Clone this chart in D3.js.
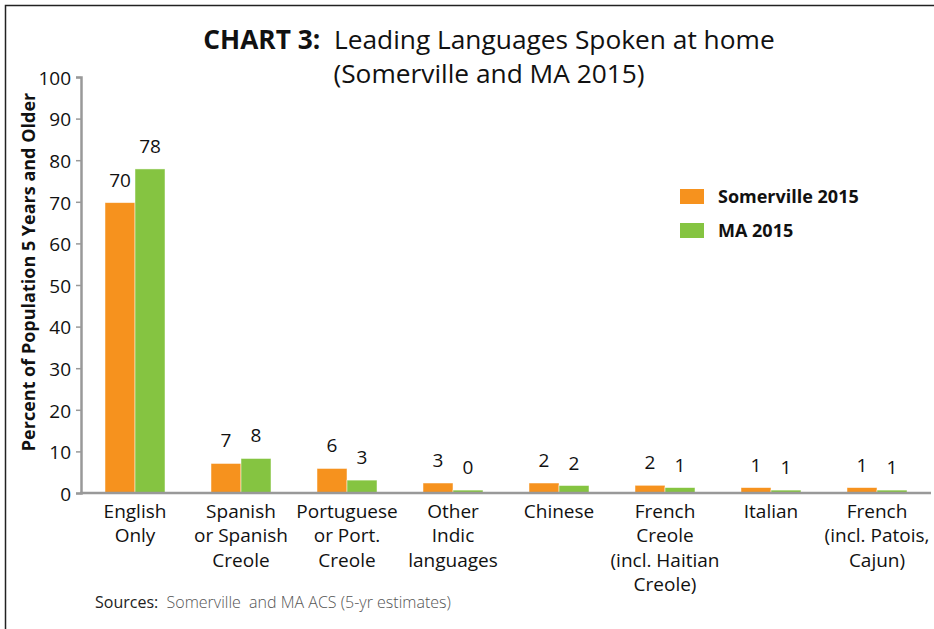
<!DOCTYPE html>
<html>
<head>
<meta charset="utf-8">
<script src="https://cdn.jsdelivr.net/npm/d3@7"></script>
<style>
  body { margin: 0; background: #fff; }
  text { font-family: "Open Sans", sans-serif; fill: #111; }
</style>
</head>
<body>
<div id="chart"></div>
<script>
// languages and their wrapped tick labels
const categories = ["English Only", "Spanish or Spanish Creole", "Portuguese or Port. Creole",
    "Other Indic languages", "Chinese", "French Creole (incl. Haitian Creole)", "Italian",
    "French (incl. Patois, Cajun)"];
const tickLines = [
    ["English", "Only"],
    ["Spanish", "or Spanish", "Creole"],
    ["Portuguese", "or Port.", "Creole"],
    ["Other", "Indic", "languages"],
    ["Chinese"],
    ["French", "Creole", "(incl. Haitian", "Creole)"],
    ["Italian"],
    ["French", "(incl. Patois,", "Cajun)"]
];
const seriesNames = ["Somerville 2015", "MA 2015"];
const somerville = [69.8, 7.1, 5.9, 2.4, 2.4, 1.85, 1.3, 1.3];
const ma = [77.9, 8.3, 3.1, 0.7, 1.8, 1.3, 0.7, 0.7];
const somervilleLabels = ["70", "7", "6", "3", "2", "2", "1", "1"];
const maLabels = ["78", "8", "3", "0", "2", "1", "1", "1"];
const yTicks = [0, 10, 20, 30, 40, 50, 60, 70, 80, 90, 100];
const colors = ["#F6921E", "#85C441"];

const width = 934, height = 629;

const svg = d3.select("#chart")
    .append("svg")
    .attr("width", width)
    .attr("height", height);

// frame (top and left only visible)
svg.append("path")
    .attr("d", "M5.5," + height + "V5.5H" + width)
    .attr("fill", "none")
    .attr("stroke", "#222")
    .attr("stroke-width", 1.5);

const x = d3.scaleBand()
    .domain(categories)
    .range([82, 930])
    .paddingInner(0.434)
    .paddingOuter(0.217);

const x1 = d3.scaleBand()
    .domain(seriesNames)
    .range([0, x.bandwidth()]);

const y = d3.scaleLinear()
    .domain([0, 100])
    .range([493, 77]);

// title, two lines in one text
const title = svg.append("text")
    .attr("x", 489)
    .attr("y", 49)
    .attr("text-anchor", "middle")
    .attr("font-size", 26.3)
    .style("white-space", "pre");
title.append("tspan").attr("font-weight", "bold").text("CHART 3:");
title.append("tspan").text("  Leading Languages Spoken at home");
title.append("tspan")
    .attr("x", 489)
    .attr("dy", 33.5)
    .text("(Somerville and MA 2015)");

// y axis
const yAxis = d3.axisLeft(y)
    .tickValues(yTicks)
    .tickSize(5)
    .tickPadding(5);

const yg = svg.append("g")
    .attr("transform", "translate(81,0)")
    .call(yAxis);
yg.select(".domain").attr("stroke", "#999").attr("stroke-width", 2.5);
yg.selectAll(".tick line").attr("stroke", "#999").attr("stroke-width", 1.5);
yg.selectAll(".tick text")
    .attr("font-size", 19)
    .attr("font-family", "Open Sans, sans-serif")
    .attr("fill", "#111")
    .attr("dy", "0.38em");

svg.append("text")
    .attr("transform", "translate(35,272) rotate(-90)")
    .attr("text-anchor", "middle")
    .attr("font-size", 18)
    .attr("font-weight", "bold")
    .text("Percent of Population 5 Years and Older");

// bars
const rows = categories.map((c, i) => ({
    cat: c,
    vals: [
        {s: seriesNames[0], v: somerville[i], label: somervilleLabels[i]},
        {s: seriesNames[1], v: ma[i], label: maLabels[i]}
    ]
}));

const groups = svg.selectAll(".grp")
    .data(rows)
    .enter()
    .append("g")
    .attr("class", "grp")
    .attr("transform", d => "translate(" + x(d.cat) + ",0)");

groups.selectAll("rect")
    .data(d => d.vals)
    .enter()
    .append("rect")
    .attr("x", d => x1(d.s))
    .attr("y", d => y(d.v))
    .attr("width", x1.bandwidth())
    .attr("height", d => y(0) - y(d.v))
    .attr("fill", (d, i) => colors[i])
    .attr("stroke", "#fff")
    .attr("stroke-opacity", 0.6)
    .attr("stroke-width", 0.8);

groups.selectAll(".val")
    .data(d => d.vals)
    .enter()
    .append("text")
    .attr("class", "val")
    .attr("x", d => x1(d.s) + x1.bandwidth() / 2)
    .attr("y", d => y(d.v) - 16)
    .attr("text-anchor", "middle")
    .attr("font-size", 19)
    .text(d => d.label);

// x axis line
svg.append("line")
    .attr("x1", 80)
    .attr("x2", 931)
    .attr("y1", y(0))
    .attr("y2", y(0))
    .attr("stroke", "#999")
    .attr("stroke-width", 2.5);

// x tick labels
const tl = svg.selectAll(".xlab")
    .data(categories)
    .enter()
    .append("text")
    .attr("class", "xlab")
    .attr("x", d => x(d) + x.bandwidth() / 2)
    .attr("y", 518)
    .attr("text-anchor", "middle")
    .attr("font-size", 19);
tl.selectAll("tspan")
    .data((d, i) => tickLines[i])
    .enter()
    .append("tspan")
    .attr("x", function () { return d3.select(this.parentNode).attr("x"); })
    .attr("dy", (d, i) => i === 0 ? 0 : 24.3)
    .text(d => d);

// legend
const legend = svg.append("g")
    .attr("transform", "translate(680,189)");
seriesNames.forEach((s, i) => {
    legend.append("rect")
        .attr("x", 0)
        .attr("y", i * 34)
        .attr("width", 24)
        .attr("height", 15)
        .attr("fill", colors[i]);
    legend.append("text")
        .attr("x", 38)
        .attr("y", i * 34 + 7.5)
        .attr("dy", "0.36em")
        .attr("font-size", 18)
        .attr("font-weight", "bold")
        .text(s);
});

// source note
const src = svg.append("text")
    .attr("x", 95)
    .attr("y", 608)
    .attr("font-size", 16)
    .style("white-space", "pre");
src.append("tspan").attr("fill", "#222").text("Sources:");
src.append("tspan").attr("fill", "#555").attr("font-weight", 300)
    .text("  Somerville  and MA ACS (5-yr estimates)");
</script>
</body>
</html>
